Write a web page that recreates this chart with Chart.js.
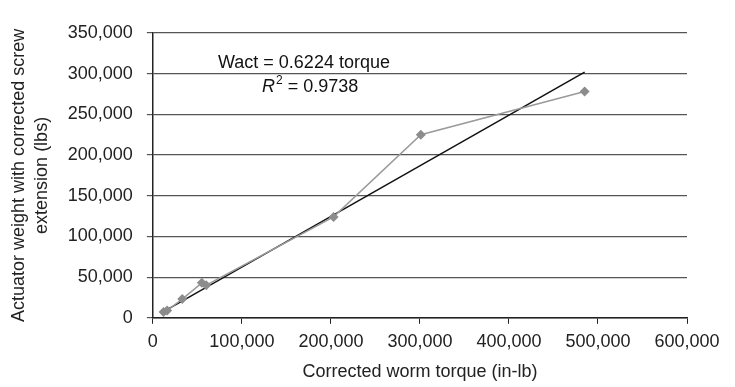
<!DOCTYPE html>
<html lang="en">
<head>
    <meta charset="UTF-8">
    <title>Worm torque vs actuator weight</title>
    <script src="https://cdn.jsdelivr.net/npm/chart.js"></script>
    <style>
        body { margin: 0; background: #fff; }
    </style>
</head>
<body>
    <canvas id="myChart" width="735" height="387"></canvas>

    <script>
        // corrected worm torque (in-lb) and actuator weight (lbs)
        const torque = [12000, 16000, 33000, 55000, 60000, 203000, 301000, 485000];
        const weight = [7000, 9000, 23000, 43000, 40000, 124000, 225000, 278000];
        const slope = 0.6224;
        const rSquared = '0.9738';
        const xTicks = [0, 100000, 200000, 300000, 400000, 500000, 600000];
        const yTicks = [0, 50000, 100000, 150000, 200000, 250000, 300000, 350000];

        const points = torque.map((t, i) => ({x: t, y: weight[i]}));
        const xMin = Math.min(...torque);
        const xMax = Math.max(...torque);
        const trend = [xMin, xMax].map(x => ({x: x, y: slope * x}));

        const fmt = v => v.toLocaleString('en-US');
        const font = {family: '"Liberation Sans", Arial, sans-serif', size: 18};

        const labelPlugin = {
            id: 'labelPlugin',
            afterDraw(chart) {
                const {ctx} = chart;
                ctx.save();
                ctx.fillStyle = '#111';
                ctx.font = '18px "Liberation Sans", Arial, sans-serif';
                ctx.textBaseline = 'alphabetic';
                ctx.textAlign = 'left';
                ctx.fillText('Wact = ' + slope + ' torque', 218, 68);
                ctx.font = 'italic 18px "Liberation Sans", Arial, sans-serif';
                ctx.fillText('R', 262, 92);
                let w = ctx.measureText('R').width;
                ctx.font = '12px "Liberation Sans", Arial, sans-serif';
                ctx.fillText('2', 262 + w + 1, 84);
                let w2 = ctx.measureText('2').width;
                ctx.font = '18px "Liberation Sans", Arial, sans-serif';
                ctx.fillText(' = ' + rSquared, 262 + w + w2 + 1, 92);
                ctx.restore();
            }
        };

        const config = {
            type: 'scatter',
            data: {
                datasets: [
                    {
                        data: points,
                        showLine: true,
                        borderColor: '#9a9a9a',
                        backgroundColor: '#8c8c8c',
                        borderWidth: 1.5,
                        pointStyle: 'rectRot',
                        pointRadius: 5,
                        pointBorderWidth: 0
                    },
                    {
                        data: trend,
                        showLine: true,
                        borderColor: '#111',
                        borderWidth: 1.5,
                        pointRadius: 0
                    }
                ]
            },
            options: {
                responsive: false,
                animation: false,
                layout: {padding: {left: 3, right: 48, top: 33, bottom: 0}},
                plugins: {
                    legend: {display: false},
                    tooltip: {enabled: false}
                },
                scales: {
                    x: {
                        type: 'linear',
                        min: 0,
                        max: 600000,
                        afterBuildTicks: axis => { axis.ticks = xTicks.map(v => ({value: v})); },
                        ticks: {color: '#222', font: font, maxRotation: 0, callback: fmt, padding: 7},
                        grid: {drawOnChartArea: false, drawTicks: true, tickLength: 6, color: '#222'},
                        border: {color: '#222', width: 1.5},
                        title: {display: true, text: 'Corrected worm torque (in-lb)', color: '#222', font: font, padding: {top: 2}}
                    },
                    y: {
                        min: 0,
                        max: 350000,
                        afterBuildTicks: axis => { axis.ticks = yTicks.map(v => ({value: v})); },
                        ticks: {color: '#222', font: font, callback: fmt, padding: 14},
                        grid: {color: '#555', lineWidth: 1.2, tickLength: 6},
                        border: {color: '#222', width: 1.5},
                        title: {
                            display: true,
                            text: ['Actuator weight with corrected screw', 'extension (lbs)'],
                            color: '#222',
                            font: {family: font.family, size: 18, lineHeight: 1.3},
                            padding: {bottom: 0}
                        }
                    }
                }
            },
            plugins: [labelPlugin]
        };

        const ctx = document.getElementById('myChart').getContext('2d');
        new Chart(ctx, config);
    </script>
</body>
</html>
